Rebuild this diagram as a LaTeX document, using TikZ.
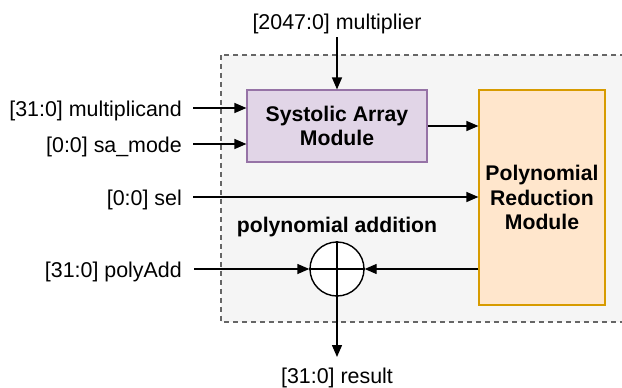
\documentclass[tikz,border=0pt]{standalone}
\usepackage{fontspec}
\setmainfont{Liberation Sans}
\usetikzlibrary{arrows.meta}
\definecolor{regionfill}{HTML}{F5F5F5}
\definecolor{regionline}{HTML}{666666}
\definecolor{safill}{HTML}{E1D5E7}
\definecolor{saline}{HTML}{9673A6}
\definecolor{prfill}{HTML}{FFE6CC}
\definecolor{prline}{HTML}{D79B00}
\begin{document}
\begin{tikzpicture}[x=1pt,y=-1pt,
  txt/.style={font=\fontsize{21.4}{24.5}\selectfont, inner sep=0pt},
  boldtxt/.style={font=\fontsize{21.2}{24.5}\selectfont\bfseries, align=center},
  wire/.style={line width=1.4pt, -{Triangle[length=12pt,width=10pt]}},
  plainwire/.style={line width=1.4pt},
  module/.style={draw, line width=1.2pt, boldtxt, inner sep=0pt}
]
\useasboundingbox (0,0) rectangle (622,388);

% enclosing region
\draw[fill=regionfill, draw=regionline, line width=1.2pt, dash pattern=on 5pt off 4pt]
  (221,55) rectangle (660,322);

% modules
\node[module, fill=safill, draw=saline, minimum width=180pt, minimum height=72pt]
  (sa) at (337,126) {Systolic Array\\Module};
\node[module, fill=prfill, draw=prline, minimum width=126pt, minimum height=215pt]
  (pr) at (542,197.5) {Polynomial\\Reduction\\Module};

% adder
\node[draw, circle, line width=1.4pt, fill=white, minimum size=54pt, inner sep=0pt]
  (add) at (337,269) {};
\draw[plainwire] (add.north) -- (add.south);
\draw[plainwire] (add.west) -- (add.east);
\node[boldtxt, anchor=base] (addlbl) at (337,232) {polynomial addition};

% port labels
\node[txt, anchor=base] (mulr) at (337,29) {[2047:0] multiplier};
\node[txt, anchor=base east] (mcand) at (182,116) {[31:0] multiplicand};
\node[txt, anchor=base east] (samode) at (182,152) {[0:0] sa\_mode};
\node[txt, anchor=base east] (sel) at (182,205) {[0:0] sel};
\node[txt, anchor=base east] (padd) at (182,277) {[31:0] polyAdd};
\node[txt, anchor=base] (res) at (337,383) {[31:0] result};

% connector ends
\coordinate (mulrS) at (337,37);
\coordinate (mcandS) at (193,108);
\coordinate (samodeS) at (193,144);
\coordinate (selS) at (193,197);
\coordinate (paddS) at (194,269);
\coordinate (resE) at (337,357);

% connectors
\draw[wire] (mulrS) -- (sa.north);
\draw[wire] (mcandS) -- (sa.west |- mcandS);
\draw[wire] (samodeS) -- (sa.west |- samodeS);
\draw[wire] (sa.east) -- (pr.west |- sa.east);
\draw[wire] (selS) -- (pr.west |- selS);
\draw[wire] (paddS) -- (add.west);
\draw[wire] (pr.west |- add.east) -- (add.east);
\draw[wire] (add.south) -- (resE);
\end{tikzpicture}
\end{document}
